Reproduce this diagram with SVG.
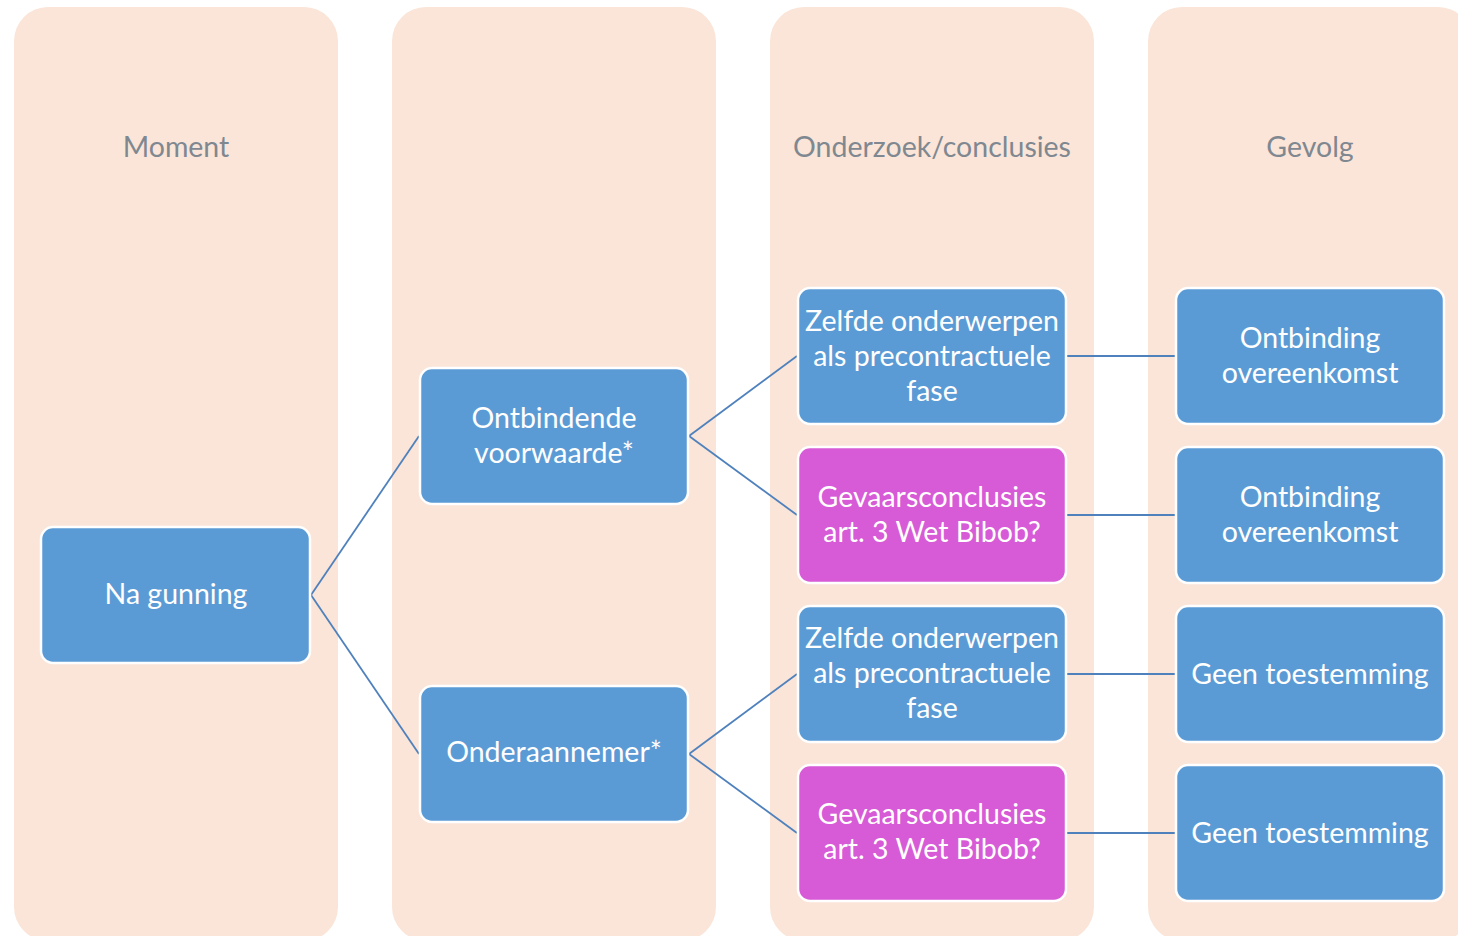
<svg xmlns="http://www.w3.org/2000/svg" width="1458" height="936" viewBox="0 0 1458 936">
<style>
.col{fill:#FAE5D8}
.hdr{font-family:Lato,"Open Sans",sans-serif;font-size:28.5px;fill:#7F8891;text-anchor:middle}
.box{stroke:#FFFFFF;stroke-width:2.5}
.blue{fill:#5B9BD5}
.pink{fill:#D75AD6}
.t{font-family:Lato,"Open Sans",sans-serif;font-size:28.5px;fill:#FFFFFF;text-anchor:middle}
.c{stroke:#4F81BD;stroke-width:1.8;fill:none}
</style>
<rect width="1458" height="936" fill="#FFFFFF"/>
<g id="columns">
<g id="col-moment"><rect class="col" x="14" y="7" width="324" height="934" rx="34"/><text class="hdr" x="176" y="157">Moment</text></g>
<g id="col-2"><rect class="col" x="392" y="7" width="324" height="934" rx="34"/></g>
<g id="col-onderzoek"><rect class="col" x="770" y="7" width="324" height="934" rx="34"/><text class="hdr" x="932" y="157">Onderzoek/conclusies</text></g>
<g id="col-gevolg"><rect class="col" x="1148" y="7" width="324" height="934" rx="34"/><text class="hdr" x="1310" y="157">Gevolg</text></g>
</g>
<g id="connectors">
<line class="c" x1="311" y1="595" x2="419" y2="436"/>
<line class="c" x1="311" y1="595" x2="419" y2="754"/>
<line class="c" x1="689" y1="436" x2="797" y2="356"/>
<line class="c" x1="689" y1="436" x2="797" y2="515"/>
<line class="c" x1="689" y1="754" x2="797" y2="674"/>
<line class="c" x1="689" y1="754" x2="797" y2="833"/>
<line class="c" x1="1067" y1="356" x2="1175" y2="356"/>
<line class="c" x1="1067" y1="515" x2="1175" y2="515"/>
<line class="c" x1="1067" y1="674" x2="1175" y2="674"/>
<line class="c" x1="1067" y1="833" x2="1175" y2="833"/>
</g>
<g id="n-na-gunning"><rect class="box blue" x="41" y="527" width="269" height="136" rx="12"/><text class="t" x="176" y="604">Na gunning</text></g>
<g id="n-ontbindende"><rect class="box blue" x="420" y="368" width="268" height="136" rx="12"/><text class="t" x="554" y="428">Ontbindende</text><text class="t" x="554" y="463">voorwaarde*</text></g>
<g id="n-onderaannemer"><rect class="box blue" x="420" y="686" width="268" height="136" rx="12"/><text class="t" x="554" y="762">Onderaannemer*</text></g>
<g id="n-zelfde-1"><rect class="box blue" x="798" y="288" width="268" height="136" rx="12"/><text class="t" x="932" y="331">Zelfde onderwerpen</text><text class="t" x="932" y="366">als precontractuele</text><text class="t" x="932" y="401">fase</text></g>
<g id="n-gevaar-1"><rect class="box pink" x="798" y="447" width="268" height="136" rx="12"/><text class="t" x="932" y="507">Gevaarsconclusies</text><text class="t" x="932" y="542">art. 3 Wet Bibob?</text></g>
<g id="n-zelfde-2"><rect class="box blue" x="798" y="606" width="268" height="136" rx="12"/><text class="t" x="932" y="648">Zelfde onderwerpen</text><text class="t" x="932" y="683">als precontractuele</text><text class="t" x="932" y="718">fase</text></g>
<g id="n-gevaar-2"><rect class="box pink" x="798" y="765" width="268" height="136" rx="12"/><text class="t" x="932" y="824">Gevaarsconclusies</text><text class="t" x="932" y="859">art. 3 Wet Bibob?</text></g>
<g id="n-ontbinding-1"><rect class="box blue" x="1176" y="288" width="268" height="136" rx="12"/><text class="t" x="1310" y="348">Ontbinding</text><text class="t" x="1310" y="383">overeenkomst</text></g>
<g id="n-ontbinding-2"><rect class="box blue" x="1176" y="447" width="268" height="136" rx="12"/><text class="t" x="1310" y="507">Ontbinding</text><text class="t" x="1310" y="542">overeenkomst</text></g>
<g id="n-geen-1"><rect class="box blue" x="1176" y="606" width="268" height="136" rx="12"/><text class="t" x="1310" y="684">Geen toestemming</text></g>
<g id="n-geen-2"><rect class="box blue" x="1176" y="765" width="268" height="136" rx="12"/><text class="t" x="1310" y="843">Geen toestemming</text></g>
</svg>
